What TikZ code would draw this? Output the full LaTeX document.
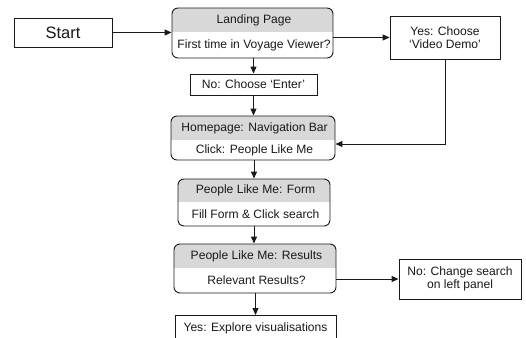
\documentclass[tikz,border=0pt]{standalone}
\usepackage{fontspec}
\setmainfont{Liberation Sans}
\usetikzlibrary{arrows.meta,calc}

\definecolor{hdrgray}{RGB}{216,216,216}
\definecolor{ink}{RGB}{25,25,25}

\tikzset{
  x=1pt, y=-1pt,
  every node/.style={font=\fontsize{12.1}{13}\selectfont, text=ink, align=center},
  plainbox/.style={draw=ink, line width=0.9pt, inner sep=0pt},
  roundbox/.style={draw=ink, line width=0.9pt, rounded corners=6pt, inner sep=0pt},
  arr/.style={draw=ink, line width=1pt, -{Triangle[length=7pt,width=6pt]}},
}

% Two-part rounded box: grey header above a white body.
% #1 name, #2 x1, #3 y1, #4 x2, #5 y2, #6 divider y, #7 header text, #8 body text
\newcommand{\splitbox}[8]{%
  \begin{scope}
    \clip[rounded corners=6pt] (#2,#3) rectangle (#4,#5);
    \fill[hdrgray] (#2,#3) rectangle (#4,#6);
  \end{scope}
  \node[roundbox, minimum width=#4pt-#2pt, minimum height=#5pt-#3pt]
    (#1) at ({(#2+#4)/2},{(#3+#5)/2}) {};
  \node[xshift=1.5pt] (#1-top) at ({(#2+#4)/2},{(#3+#6)/2}) {#7};
  \node[xshift=1.5pt] (#1-body) at ({(#2+#4)/2},{(#6+#5)/2}) {#8};
}

\begin{document}
\begin{tikzpicture}
\useasboundingbox (0,0) rectangle (526,337);
\clip (0,0) rectangle (526,337);

% Boxes
\node[plainbox, minimum width=98pt, minimum height=29pt,
      font=\fontsize{16.5}{18}\selectfont] (start) at (63,32.5) {Start};

\splitbox{landing}{172}{8}{333}{58}{32}{Landing Page}{First time in Voyage Viewer?}

\node[plainbox, minimum width=110pt, minimum height=43pt] (yes) at (445,37.5)
  {Yes: Choose\\‘Video Demo’};

\node[plainbox, minimum width=127pt, minimum height=21pt] (enter) at (253.5,84.5)
  {No: Choose ‘Enter’};

\splitbox{home}{171}{116}{335}{160}{140}{Homepage: Navigation Bar}{Click: People Like Me}

\splitbox{form}{178}{179}{330}{226}{202}{People Like Me: Form}{Fill Form \& Click search}

\splitbox{results}{174}{244}{336}{293}{268}{People Like Me: Results}{Relevant Results?}

\node[plainbox, minimum width=122pt, minimum height=40pt] (change) at (460,279)
  {No: Change search\\on left panel};

\node[plainbox, minimum width=161pt, minimum height=30pt, anchor=north] (explore)
  at (255.5,315) {};
\node (explore-text) at (255.5,328) {Yes: Explore visualisations};

% Connectors
\draw[arr] (start.east) -- (start.east -| landing.west);
\draw[arr] (landing.east |- yes.west) -- (yes.west);
\draw[arr] (landing.south -| enter.north) -- (enter.north);
\draw[arr] (enter.south) -- (enter.south |- home.north);
\draw[arr] (yes.south) |- ([yshift=-6pt]home.east);
\draw[arr] (home.south -| form.north) -- (form.north);
\draw[arr] (form.south) -- (form.south |- results.north);
\draw[arr] (results.east |- change.west) -- (change.west);
\draw[arr] (results.south -| explore.north) -- (explore.north);
\end{tikzpicture}
\end{document}
